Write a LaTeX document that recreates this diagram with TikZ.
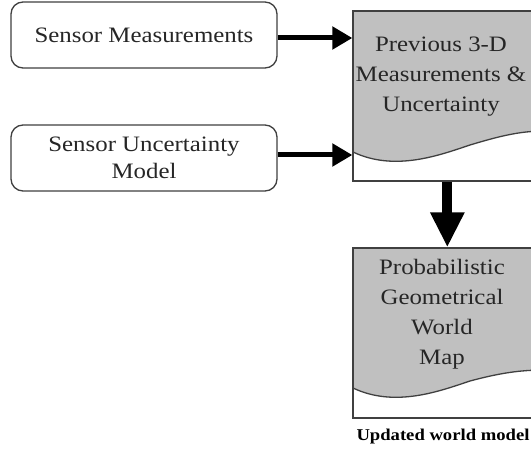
\documentclass[tikz,border=0pt]{standalone}
\usepackage{fontspec}
\setmainfont{Liberation Serif}[FakeStretch=1.13]
\usetikzlibrary{arrows.meta,calc}

\definecolor{docgray}{RGB}{192,192,192}
\definecolor{edgegray}{RGB}{64,64,64}

\tikzset{
	inbox/.style={draw=edgegray, line width=1.3pt, rounded corners=12pt,
		minimum width=266pt, minimum height=66pt, align=center,
		font=\fontsize{22}{27}\selectfont, text=black!85},
	docbox/.style={draw=edgegray, line width=1.3pt, minimum width=267pt, minimum height=170pt},
	doctext/.style={align=center, font=\fontsize{22}{30}\selectfont, text=black!85},
	sidearrow/.style={line width=5pt, -{Triangle[length=20pt,width=22pt]}},
	downarrow/.style={line width=10pt, -{Triangle[length=35pt,width=32pt]}}
}

\begin{document}
\begin{tikzpicture}[x=1pt,y=-1pt]
		
		\clip (0,0) rectangle (531,452);
		\fill[white] (0,0) rectangle (531,452);
		
		% Gray parts of the two documents
		\fill[docgray] (353,11) -- (353,152) .. controls (395,172) and (440,155) .. (470,145)
			.. controls (500,136) and (520,131) .. (545,131) -- (545,11) -- cycle;
		\draw[edgegray, line width=1.3pt] (353,152) .. controls (395,172) and (440,155) .. (470,145)
			.. controls (500,136) and (520,131) .. (545,131);
		\fill[docgray] (353,248) -- (353,388) .. controls (395,408) and (440,391) .. (470,381)
			.. controls (500,373) and (520,370) .. (545,370) -- (545,248) -- cycle;
		\draw[edgegray, line width=1.3pt] (353,388) .. controls (395,408) and (440,391) .. (470,381)
			.. controls (500,373) and (520,370) .. (545,370);
		
		% Inputs
		\node[inbox] (sens) at (144,35) {Sensor Measurements};
		\node[inbox] (unc) at (144,158) {Sensor Uncertainty\\Model};
		
		% Documents
		\node[docbox] (prev) at (486.5,96) {};
		\node[doctext] (prevtext) at (441,77) {Previous 3-D\\Measurements \&\\Uncertainty};
		\node[docbox] (map) at (486.5,333) {};
		\node[doctext] (maptext) at (442,314) {Probabilistic\\Geometrical\\World\\Map};
		\node[font=\fontsize{16.5}{18}\selectfont\bfseries] (upd) at (443,437) {Updated world model};
		
		% Arrows
		\draw[sidearrow] ([yshift=-3pt]sens.east) -- ([yshift=-3pt]sens.east -| prev.west);
		\draw[sidearrow] ([yshift=3pt]unc.east) -- ([yshift=3pt]unc.east -| prev.west);
		\draw[downarrow] ([xshift=95pt]prev.south west) -- ([xshift=95pt]map.north west);
		
	\end{tikzpicture}
\end{document}
